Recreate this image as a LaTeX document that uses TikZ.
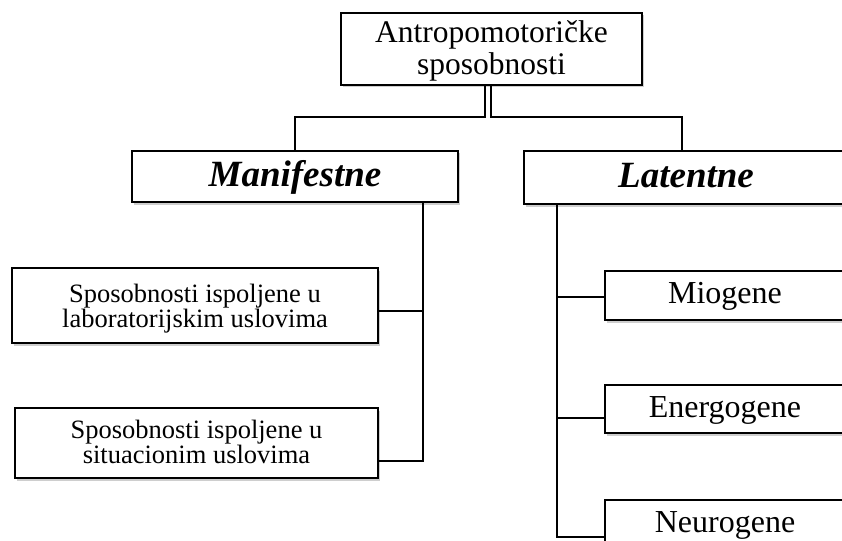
\documentclass[tikz,border=0pt]{standalone}
\usepackage{fontspec}
\setmainfont{Liberation Serif}
\usetikzlibrary{shadows}
\begin{document}
\begin{tikzpicture}[x=1pt,y=-1pt,
  box/.style={draw=black, line width=1.8pt, fill=white, rectangle,
    inner sep=0pt, outer sep=0pt, anchor=north west, align=center,
    drop shadow={shadow xshift=1.5pt, shadow yshift=-2.5pt, fill=black!35, opacity=0.55}},
  link/.style={draw=black, line width=1.5pt},
  toptxt/.style={font=\fontsize{31.5pt}{32pt}\selectfont},
  headtxt/.style={font=\fontsize{37pt}{40pt}\selectfont\bfseries\itshape},
  subtxt/.style={font=\fontsize{26.5pt}{25pt}\selectfont},
  leaftxt/.style={font=\fontsize{32pt}{34pt}\selectfont}]
\path[use as bounding box, clip] (0,0) rectangle (842,540);

% root
\node[box, toptxt, minimum width=301pt, minimum height=72pt, text height=60pt, text depth=8pt] (top) at (341,13)
  {Antropomotoričke\\sposobnosti};

% two main groups
\node[box, headtxt, minimum width=326pt, minimum height=51pt, text height=28pt, text depth=9pt] (man) at (132,151) {Manifestne};
\node[box, headtxt, minimum width=324pt, minimum height=53pt, text height=28pt, text depth=9pt] (lat) at (524,151) {Latentne};

% manifest abilities
\node[box, subtxt, minimum width=366pt, minimum height=75pt, text height=52pt, text depth=9pt] (lab) at (12,268)
  {Sposobnosti ispoljene u\\laboratorijskim uslovima};
\node[box, subtxt, minimum width=363pt, minimum height=70pt, text height=50pt, text depth=10pt] (sit) at (15,408)
  {Sposobnosti ispoljene u\\situacionim uslovima};

% latent abilities
\node[box, leaftxt, minimum width=240pt, minimum height=49pt, text height=25pt, text depth=10pt] (mio) at (605,271) {Miogene};
\node[box, leaftxt, minimum width=240pt, minimum height=48pt, text height=26pt, text depth=10pt] (ene) at (605,385) {Energogene};
\node[box, leaftxt, minimum width=240pt, minimum height=49pt, text height=25pt, text depth=10pt] (neu) at (605,500) {Neurogene};

% connectors from the root
\draw[link] ([xshift=-6.5pt]top.south) -- ++(0,32) -| (man.north);
\draw[link] ([xshift=-0.5pt]top.south) -- ++(0,32) -| ([xshift=-4pt]lat.north);

% manifest branch
\draw[link] ([xshift=-35pt]man.south east) coordinate (ms) |- ([yshift=-18pt]sit.east);
\draw[link] (ms) |- ([yshift=-5.5pt]lab.east);

% latent branch
\draw[link] ([xshift=33pt]lat.south west) coordinate (ls) |- ([yshift=-12.5pt]neu.west);
\draw[link] (ls) |- ([yshift=-1.5pt]mio.west);
\draw[link] (ls) |- ([yshift=-9pt]ene.west);
\end{tikzpicture}
\end{document}
